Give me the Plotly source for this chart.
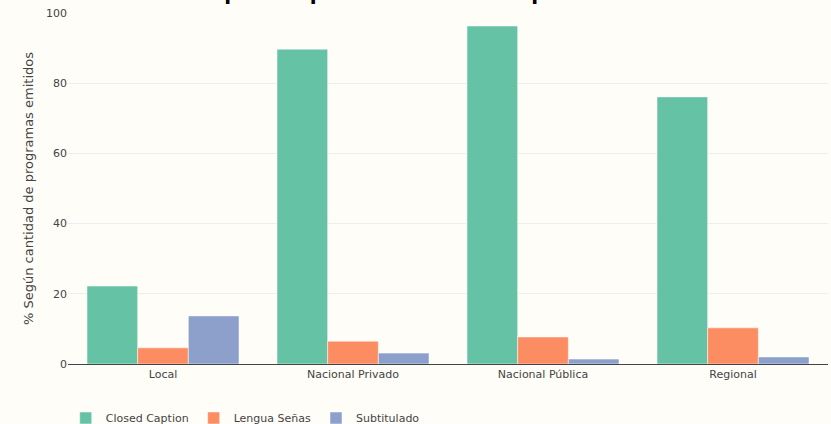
import plotly.graph_objects as go

categories = ["Local", "Nacional Privado", "Nacional Pública", "Regional"]
closed_caption = [22.2, 89.7, 96.3, 76.1]
lengua_senas = [4.6, 6.5, 7.7, 10.3]
subtitulado = [13.7, 3.1, 1.4, 2.0]

series = [
    ("Closed Caption", closed_caption, "#66c2a5"),
    ("Lengua Señas", lengua_senas, "#fc8d62"),
    ("Subtitulado", subtitulado, "#8da0cb"),
]

title_text = "<b>Programas con medidas de accesibilidad<br>para la población con discapacidad</b>"

fig = go.Figure()
for name, vals, col in series:
    fig.add_trace(go.Bar(x=categories, y=vals, name=name,
                         marker=dict(color=col, line=dict(color="rgba(255,255,255,0.5)", width=1))))

bg = "#fffdf8"
FIG_H = 480
SHIFT = 37  # the reference view starts 37px below the top of the figure
fig.update_layout(
    width=831, height=FIG_H,
    paper_bgcolor=bg, plot_bgcolor=bg,
    margin=dict(l=68, r=3, t=50, b=79),
    barmode="group", bargap=0.2, bargroupgap=0,
    font=dict(family="Verdana, DejaVu Sans, sans-serif", size=11, color="#444"),
    title=dict(text=title_text, x=0.508, xanchor="center", xref="container",
               y=1 - (SHIFT - 26) / FIG_H, yanchor="bottom", yref="container",
               font=dict(size=20, color="#000")),
    showlegend=True,
    legend=dict(orientation="h", x=-0.003, y=-0.1125, xanchor="left", yanchor="top",
                font=dict(size=11, color="#444"), bgcolor="rgba(0,0,0,0)"),
    xaxis=dict(showline=True, linecolor="#444", linewidth=1, showgrid=False,
               ticks="", tickfont=dict(size=11, color="#444")),
    yaxis=dict(range=[0, 100], dtick=20, showgrid=True, gridcolor="#eeeeee",
               zeroline=False, ticks="", tickfont=dict(size=11, color="#444"),
               title=dict(text="% Según cantidad de programas emitidos",
                          font=dict(size=13, color="#444"), standoff=9)),
)

fig.write_html(
    "out.html",
    config={"displayModeBar": False},
    post_script="document.body.style.margin='0';document.body.style.marginTop='-%dpx';"
                "document.body.style.background='%s';document.documentElement.style.overflow='hidden';" % (SHIFT, bg),
)
